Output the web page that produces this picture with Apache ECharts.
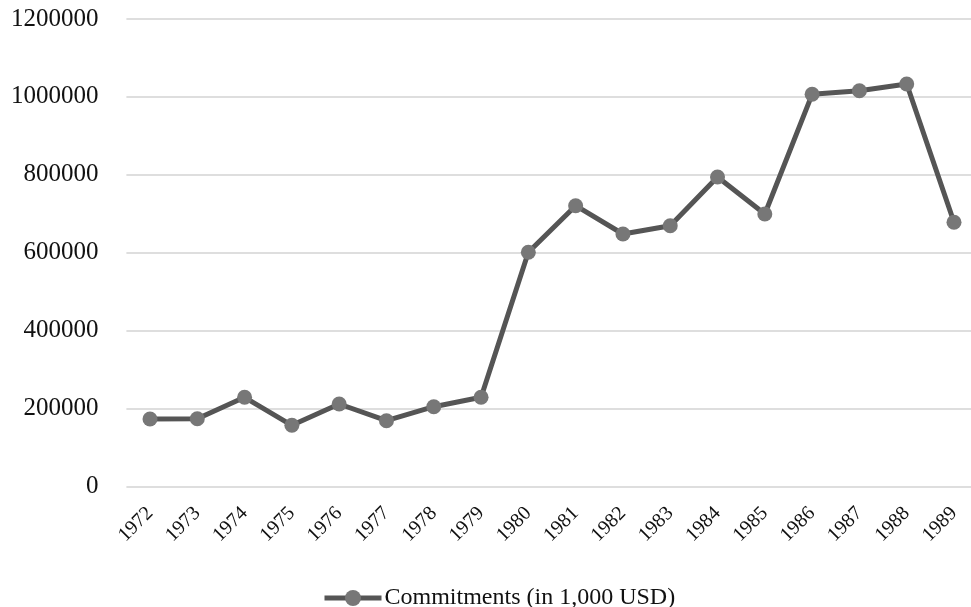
<!DOCTYPE html>
<html>
<head>
<meta charset="utf-8">
<script src="https://cdn.jsdelivr.net/npm/echarts@6/dist/echarts.min.js"></script>
<style>
  html, body { margin: 0; padding: 0; background: #fff; }
  #chart { width: 971px; height: 607px; }
</style>
</head>
<body>
<div id="chart"></div>
<script>
// Annual commitments, 1972–1989 (in 1,000 USD)
const years = ['1972', '1973', '1974', '1975', '1976', '1977', '1978', '1979', '1980',
               '1981', '1982', '1983', '1984', '1985', '1986', '1987', '1988', '1989'];
const commitments = [172800, 173600, 228600, 156600, 211300, 168500, 204400, 228600, 600900,
                     720600, 647900, 669200, 794300, 699300, 1006600, 1015900, 1033100, 678000];
const seriesName = 'Commitments (in 1,000 USD)';
const yTicks = { min: 0, max: 1200000, interval: 200000 };

const serif = "'Liberation Serif', 'Times New Roman', serif";

// Grid 0 carries the value labels and the horizontal gridlines across the full width;
// grid 1 holds the line itself, with the first/last year half a band inside the plot edges.
const plotTop = 19, plotHeight = 467.3;

const chart = echarts.init(document.getElementById('chart'), null, { renderer: 'canvas' });
chart.setOption({
  animation: false,
  backgroundColor: '#ffffff',
  grid: [
    { left: 126.4, right: 0, top: plotTop, height: plotHeight, containLabel: false },
    { left: 150, right: 17, top: plotTop, height: plotHeight, containLabel: false }
  ],
  legend: {
    top: 581,
    left: 317,
    padding: 5,
    itemWidth: 57,
    itemHeight: 20,
    itemGap: 10,
    data: [seriesName],
    lineStyle: { width: 5, color: '#555555' },
    itemStyle: { color: '#777777' },
    textStyle: { fontFamily: serif, fontSize: 24, color: '#111', padding: [0, 0, 0, -2] }
  },
  xAxis: [
    {
      gridIndex: 0,
      type: 'value',
      show: false
    },
    {
      gridIndex: 1,
      type: 'category',
      data: years,
      boundaryGap: false,
      axisLine: { show: false },
      axisTick: { show: false },
      axisLabel: {
        rotate: 45,
        margin: 24,
        interval: 0,
        fontFamily: serif,
        fontSize: 20,
        color: '#111'
      },
      splitLine: { show: false }
    }
  ],
  yAxis: [
    {
      gridIndex: 0,
      type: 'value',
      min: yTicks.min,
      max: yTicks.max,
      interval: yTicks.interval,
      axisLine: { show: false },
      axisTick: { show: false },
      axisLabel: {
        margin: 28,
        fontFamily: serif,
        fontSize: 25,
        color: '#111',
        formatter: v => String(v)
      },
      splitLine: { lineStyle: { color: '#dedede', width: 2 } }
    },
    {
      gridIndex: 1,
      type: 'value',
      min: yTicks.min,
      max: yTicks.max,
      interval: yTicks.interval,
      show: false,
      splitLine: { show: false }
    }
  ],
  series: [{
    name: seriesName,
    type: 'line',
    xAxisIndex: 1,
    yAxisIndex: 1,
    data: commitments,
    symbol: 'circle',
    symbolSize: 15,
    lineStyle: { color: '#555555', width: 5 },
    itemStyle: { color: '#777777' },
    emphasis: { disabled: true }
  }]
});
</script>
</body>
</html>
